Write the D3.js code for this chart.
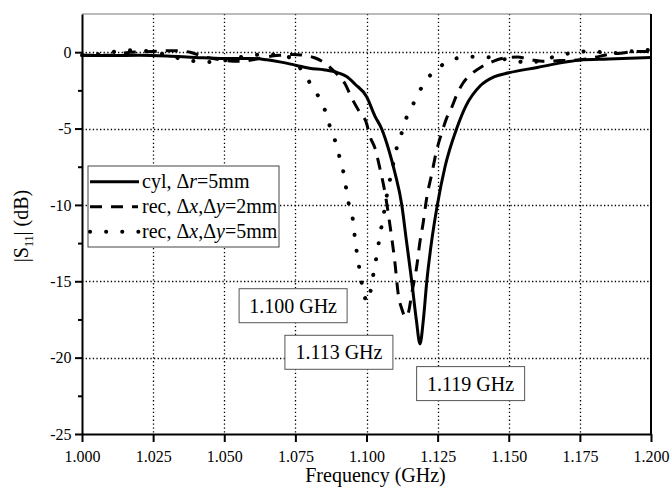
<!DOCTYPE html>
<html>
<head>
<meta charset="utf-8">
<script src="https://cdnjs.cloudflare.com/ajax/libs/d3/7.8.5/d3.min.js"></script>
<style>
body { margin: 0; background: #fff; }
svg text { font-family: "Liberation Serif", "Times New Roman", serif; fill: #000; }
</style>
</head>
<body>
<div id="chart"></div>
<script>
// cyl, dr = 5mm
var freqCyl = [1.000,1.010,1.020,1.030,1.040,1.050,1.060,1.065,1.070,1.075,1.080,1.085,1.090,1.093,1.096,1.100,1.103,1.1053,1.108,1.110,1.1124,1.114,1.1159,1.1175,1.1188,1.120,1.1212,1.1228,1.1249,1.1276,1.1317,1.135,1.140,1.145,1.150,1.160,1.170,1.175,1.185,1.200];
var dbCyl = [-0.2,-0.22,-0.2,-0.25,-0.35,-0.42,-0.42,-0.5,-0.65,-0.85,-1.05,-1.15,-1.35,-1.6,-2.1,-2.9,-4.2,-5.0,-6.5,-7.9,-10,-12.3,-15,-17.5,-19.1,-17.5,-15,-12.5,-10,-7.5,-5,-3.5,-2.2,-1.6,-1.35,-1.0,-0.65,-0.52,-0.45,-0.35];

// rec, dx,dy = 2mm
var freqRec2 = [1.000,1.010,1.015,1.025,1.032,1.038,1.042,1.047,1.055,1.060,1.065,1.070,1.074,1.0777,1.0815,1.0847,1.0889,1.0924,1.0948,1.0975,1.100,1.1012,1.103,1.1047,1.1065,1.1083,1.110,1.1112,1.1124,1.1138,1.1148,1.1159,1.1176,1.1188,1.1199,1.1212,1.1229,1.1247,1.1264,1.1282,1.130,1.1317,1.134,1.1374,1.1405,1.1445,1.148,1.153,1.158,1.162,1.168,1.175,1.180,1.185,1.190,1.195,1.200];
var dbRec2 = [-0.2,-0.2,-0.05,0.05,0.1,0.0,-0.25,-0.45,-0.6,-0.5,-0.3,-0.2,-0.15,-0.2,-0.35,-0.63,-1.3,-2.05,-3.0,-3.9,-4.65,-5.5,-6.3,-7.6,-9.2,-11.4,-13.8,-15.9,-16.8,-17.35,-17.0,-15.8,-14.1,-12.4,-11.2,-9.5,-8.0,-6.4,-5.3,-4.3,-3.6,-2.8,-2.0,-1.35,-0.95,-0.6,-0.4,-0.32,-0.5,-0.6,-0.55,-0.5,-0.35,-0.15,-0.05,0.05,0.05];

// rec, dx,dy = 5mm
var freqRec5 = [1.000,1.005,1.008,1.012,1.016,1.020,1.024,1.028,1.033,1.040,1.045,1.050,1.055,1.060,1.065,1.070,1.074,1.0765,1.079,1.0825,1.0854,1.0872,1.0893,1.0907,1.0921,1.093,1.094,1.0954,1.096,1.0968,1.0977,1.0987,1.1003,1.1018,1.1027,1.1038,1.1047,1.1057,1.1077,1.1089,1.110,1.1118,1.1135,1.1159,1.1188,1.1229,1.1288,1.1346,1.140,1.146,1.152,1.157,1.162,1.167,1.172,1.177,1.183,1.188,1.193,1.200];
var dbRec5 = [-0.2,-0.15,-0.05,0.05,0.12,0.1,0.05,-0.1,-0.35,-0.6,-0.65,-0.55,-0.35,-0.2,-0.15,-0.2,-0.45,-1.0,-1.7,-2.7,-3.8,-4.9,-6.0,-7.0,-8.05,-9.1,-10.15,-11.2,-12.3,-13.35,-14.4,-15.5,-16.35,-15.25,-14.2,-13.1,-12.0,-11.0,-8.8,-7.8,-6.7,-5.65,-4.56,-3.6,-2.5,-1.4,-0.63,-0.3,-0.3,-0.4,-0.55,-0.7,-0.5,-0.25,-0.05,0.05,0.0,-0.05,0.05,0.15];

var seriesNames = ["cyl", "rec2", "rec5"];
var legendLabels = [
    [["cyl, Δ", ""], ["r", "i"], ["=5mm", ""]],
    [["rec, Δ", ""], ["x", "i"], [",Δ", ""], ["y", "i"], ["=2mm", ""]],
    [["rec, Δ", ""], ["x", "i"], [",Δ", ""], ["y", "i"], ["=5mm", ""]]
];
var dashStyles = ["none", "12,9", "0.1,16"];

var xTicks = [1.000,1.025,1.050,1.075,1.100,1.125,1.150,1.175,1.200];
var yTicks = [0,-5,-10,-15,-20,-25];
var yMinorTicks = [-2.5,-7.5,-12.5,-17.5,-22.5];

var annoFreq = [1.0742, 1.0903, 1.1366];
var annoDb = [-16.6, -19.65, -21.7];
var annoText = ["1.100 GHz", "1.113 GHz", "1.119 GHz"];

var serif = "Liberation Serif";

var margin = {top: 14, right: 21, bottom: 54, left: 82},
    width = 672 - margin.left - margin.right,
    height = 488 - margin.top - margin.bottom;

var svg = d3.select("#chart")
    .append("svg")
    .attr("width", 672)
    .attr("height", 488)
    .attr("font-family", serif)
    .append("g")
    .attr("transform", "translate(" + margin.left + "," + margin.top + ")");

var x = d3.scaleLinear().domain([1.0, 1.2]).range([0, width]);
var y = d3.scaleLinear().domain([-25, 2.5]).range([height, 0]);

// dotted grid as one path per direction
var vg = d3.path();
xTicks.slice(1, -1).forEach(function(t) {
    vg.moveTo(Math.round(x(t)) + 0.5, 0);
    vg.lineTo(Math.round(x(t)) + 0.5, height);
});
var hg = d3.path();
yTicks.slice(0, -1).forEach(function(t) {
    hg.moveTo(0, Math.round(y(t)) + 0.5);
    hg.lineTo(width, Math.round(y(t)) + 0.5);
});

svg.append("path")
    .attr("d", vg.toString())
    .attr("fill", "none")
    .attr("stroke", "#000")
    .attr("stroke-width", 1.3)
    .attr("stroke-dasharray", "1.3,2.6");

svg.append("path")
    .attr("d", hg.toString())
    .attr("fill", "none")
    .attr("stroke", "#000")
    .attr("stroke-width", 1.3)
    .attr("stroke-dasharray", "1.3,2.3");

// curves
var line = d3.line()
    .x(function(d) { return x(d[0]); })
    .y(function(d) { return y(d[1]); })
    .curve(d3.curveMonotoneX);

var curves = [d3.zip(freqCyl, dbCyl), d3.zip(freqRec2, dbRec2), d3.zip(freqRec5, dbRec5)];

svg.selectAll("path.curve")
    .data(curves)
    .enter()
    .append("path")
    .attr("class", "curve")
    .attr("d", line)
    .style("fill", "none")
    .style("stroke", "#000")
    .style("stroke-width", function(d, i) { return i == 2 ? 4 : 3; })
    .style("stroke-linecap", function(d, i) { return i == 2 ? "round" : "butt"; })
    .style("stroke-dasharray", function(d, i) { return dashStyles[i]; });

// frame
svg.append("line").attr("x1", 0).attr("x2", width).attr("y1", 0).attr("y2", 0)
    .style("stroke", "#777").style("stroke-width", 1);
svg.append("line").attr("x1", width).attr("x2", width).attr("y1", 0).attr("y2", height)
    .style("stroke", "#000").style("stroke-width", 2);

// axes
var xAxis = svg.append("g")
    .attr("class", "axis")
    .attr("transform", "translate(0," + height + ")")
    .call(d3.axisBottom(x).tickValues(xTicks).tickFormat(d3.format(".3f")).tickSize(8).tickSizeOuter(0).tickPadding(9));

var yAxis = svg.append("g")
    .attr("class", "axis")
    .call(d3.axisLeft(y).tickValues(yTicks).tickFormat(d3.format("d")).tickSize(7).tickSizeOuter(0).tickPadding(3.5));

svg.append("g")
    .attr("class", "axis")
    .call(d3.axisLeft(y).tickValues(yMinorTicks).tickFormat("").tickSize(4).tickSizeOuter(0))
    .select(".domain").remove();

svg.selectAll(".axis .tick line").style("stroke-width", 2);
xAxis.select(".domain").style("stroke-width", 2);
yAxis.select(".domain").style("stroke-width", 2);
xAxis.attr("font-family", serif).attr("font-size", 16);
yAxis.attr("font-family", serif).attr("font-size", 16);
yAxis.selectAll(".tick text").text(function(d) { return d == 0 ? "0" : "-" + Math.abs(d); });

// axis titles
svg.append("text")
    .attr("x", width / 2 + 9)
    .attr("y", height + 48)
    .attr("text-anchor", "middle")
    .style("font-size", "20px")
    .text("Frequency (GHz)");

var yt = svg.append("text")
    .attr("transform", "translate(-54," + (height / 2 + 2) + ") rotate(-90)")
    .attr("text-anchor", "middle")
    .style("font-size", "20px");
yt.append("tspan").text("|S");
yt.append("tspan").attr("dy", 5).style("font-size", "12px").text("11");
yt.append("tspan").attr("dy", -5).text("| (dB)");

// legend
var legend = svg.append("g").attr("transform", "translate(6,152)");
legend.append("rect")
    .attr("width", 191)
    .attr("height", 81)
    .style("fill", "#fff")
    .style("stroke", "#444")
    .style("stroke-width", 1);

seriesNames.forEach(function(s, i) {
    var ly = 15.7 + i * 25;
    legend.append("line")
        .attr("x1", 2)
        .attr("x2", i == 1 ? 50 : 51)
        .attr("y1", ly)
        .attr("y2", ly)
        .style("stroke", "#000")
        .style("stroke-width", i == 2 ? 4 : 3)
        .style("stroke-linecap", i == 2 ? "round" : "butt")
        .style("stroke-dasharray", dashStyles[i]);
    var t = legend.append("text")
        .attr("x", 54)
        .attr("y", ly + 6.5)
        .style("font-size", "20px");
    legendLabels[i].forEach(function(p) {
        t.append("tspan")
            .style("font-style", p[1] == "i" ? "italic" : "normal")
            .text(p[0]);
    });
});

// frequency labels
var anno = svg.selectAll("g.anno")
    .data(annoText)
    .enter()
    .append("g")
    .attr("class", "anno")
    .attr("transform", function(d, i) { return "translate(" + x(annoFreq[i]) + "," + y(annoDb[i]) + ")"; });

anno.append("rect")
    .attr("x", -54)
    .attr("y", -17)
    .attr("width", 108)
    .attr("height", 34)
    .style("fill", "#fff")
    .style("stroke", "#555")
    .style("stroke-width", 1);

anno.append("text")
    .attr("text-anchor", "middle")
    .attr("y", 7)
    .style("font-size", "20px")
    .text(function(d) { return d; });
</script>
</body>
</html>
